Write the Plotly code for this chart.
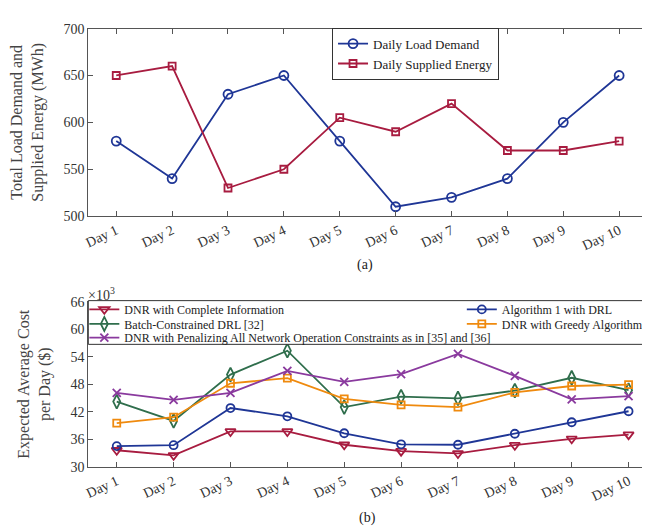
import plotly.graph_objects as go

days = ["Day 1", "Day 2", "Day 3", "Day 4", "Day 5", "Day 6", "Day 7", "Day 8", "Day 9", "Day 10"]

# (a) energy, MWh
load_demand = [580, 540, 630, 650, 580, 510, 520, 540, 600, 650]
supplied_energy = [650, 660, 530, 550, 605, 590, 620, 570, 570, 580]

# (b) expected average cost per day, x10^3 $
complete_info = [33.6, 32.5, 37.7, 37.7, 34.8, 33.4, 32.9, 34.7, 36.1, 37.0]
algorithm1 = [34.5, 34.7, 42.8, 41.0, 37.3, 34.9, 34.8, 37.2, 39.7, 42.1]
batch_drl = [44.2, 40.0, 50.1, 55.3, 43.0, 45.3, 44.9, 46.6, 49.4, 46.7]
greedy = [39.5, 40.8, 48.2, 49.3, 44.8, 43.5, 43.0, 46.2, 47.6, 47.9]
penalizing = [46.1, 44.6, 46.1, 50.9, 48.5, 50.2, 54.6, 49.8, 44.7, 45.4]

top_ticks = [500, 550, 600, 650, 700]
bottom_ticks = [30, 36, 42, 48, 54, 60, 66]

W, H = 650, 527
FONT = "Liberation Serif"
BLUE = "#1f3696"
RED = "#a81c40"
GREEN = "#2f6e4c"
ORANGE = "#ef8a0e"
PURPLE = "#8a3a9e"
AXC = "#555555"

def px_x(p):
    return p / W

def px_y(p):
    return 1 - p / H

fig = go.Figure()

fig.add_trace(go.Scatter(x=days, y=load_demand, name="Daily Load Demand", mode="lines+markers",
                         line=dict(color=BLUE, width=1.8),
                         marker=dict(symbol="circle-open", size=9, color=BLUE, line=dict(width=1.8)),
                         xaxis="x", yaxis="y", legend="legend"))
fig.add_trace(go.Scatter(x=days, y=supplied_energy, name="Daily Supplied Energy", mode="lines+markers",
                         line=dict(color=RED, width=1.8),
                         marker=dict(symbol="square-open", size=7, color=RED, line=dict(width=1.8)),
                         xaxis="x", yaxis="y", legend="legend"))

bottom_series = [
    ("DNR with Complete Information", complete_info, RED, "triangle-down-open", 9, "legend2"),
    ("Algorithm 1 with DRL", algorithm1, BLUE, "circle-open", 8, "legend3"),
    ("Batch-Constrained DRL [32]", batch_drl, GREEN, "diamond-tall-open", 10, "legend4"),
    ("DNR with Greedy Algorithm", greedy, ORANGE, "square-open", 7, "legend5"),
    ("DNR with Penalizing All Network Operation Constraints as in [35] and [36]", penalizing, PURPLE, "x-thin-open", 8, "legend6"),
]
for name, vals, col, sym, sz, leg in bottom_series:
    fig.add_trace(go.Scatter(x=days, y=vals, name=name, mode="lines+markers",
                             line=dict(color=col, width=1.8),
                             marker=dict(symbol=sym, size=sz, color=col, line=dict(width=1.8, color=col)),
                             xaxis="x2", yaxis="y2", legend=leg))

axis_common = dict(showline=True, linecolor=AXC, linewidth=1.2, mirror="ticks", ticks="inside",
                   ticklen=5, tickcolor=AXC, showgrid=False, zeroline=False,
                   tickfont=dict(family=FONT, size=14, color="#333333"))

fig.update_layout(
    width=W, height=H, margin=dict(l=0, r=0, t=0, b=0),
    paper_bgcolor="white", plot_bgcolor="white",
    font=dict(family=FONT, size=13, color="#222222"),
    xaxis=dict(domain=[px_x(76), px_x(640)], anchor="y", type="category", range=[-0.5, 9.5],
               tickangle=-25, **axis_common),
    yaxis=dict(domain=[px_y(207), px_y(14)], anchor="x", range=[500, 700], tickvals=top_ticks,
               title=dict(text="Total Load Demand and<br>Supplied Energy (MWh)",
                          font=dict(family=FONT, size=16, color="#444444")),
               **axis_common),
    xaxis2=dict(domain=[px_x(76), px_x(650)], anchor="y2", type="category", range=[-0.5, 9.5],
                tickangle=-25, **axis_common),
    yaxis2=dict(domain=[px_y(465), px_y(295)], anchor="x2", range=[30, 66], tickvals=bottom_ticks,
                title=dict(text="Expected Average Cost<br>per Day ($)",
                           font=dict(family=FONT, size=16, color="#444444")),
                **axis_common),
    legend=dict(x=px_x(322), y=px_y(13), xanchor="left", yanchor="top", bgcolor="white",
                bordercolor="#333333", borderwidth=1, font=dict(family=FONT, size=13, color="#222222")),
)

leg_style = dict(xanchor="left", yanchor="middle", bgcolor="rgba(0,0,0,0)", borderwidth=0,
                 font=dict(family=FONT, size=12, color="#222222"))
fig.update_layout(
    legend2=dict(x=px_x(72), y=px_y(303), **leg_style),
    legend3=dict(x=px_x(453), y=px_y(303), **leg_style),
    legend4=dict(x=px_x(72), y=px_y(318), **leg_style),
    legend5=dict(x=px_x(453), y=px_y(318), **leg_style),
    legend6=dict(x=px_x(72), y=px_y(332), **leg_style),
)

# legend frame for panel (b)
fig.add_shape(type="rect", xref="paper", yref="paper", x0=px_x(76), x1=px_x(649), y0=px_y(339), y1=px_y(294),
              line=dict(color="#333333", width=1), fillcolor="white", layer="above")

fig.add_annotation(text="×10<sup>3</sup>", xref="paper", yref="paper", x=px_x(74), y=px_y(287),
                   xanchor="left", yanchor="middle", showarrow=False,
                   font=dict(family=FONT, size=14, color="#333333"))
fig.add_annotation(text="(a)", xref="paper", yref="paper", x=px_x(355), y=px_y(257),
                   xanchor="center", yanchor="middle", showarrow=False,
                   font=dict(family=FONT, size=14, color="#222222"))
fig.add_annotation(text="(b)", xref="paper", yref="paper", x=px_x(358), y=px_y(518),
                   xanchor="center", yanchor="middle", showarrow=False,
                   font=dict(family=FONT, size=14, color="#222222"))

fig.write_html("out.html")
